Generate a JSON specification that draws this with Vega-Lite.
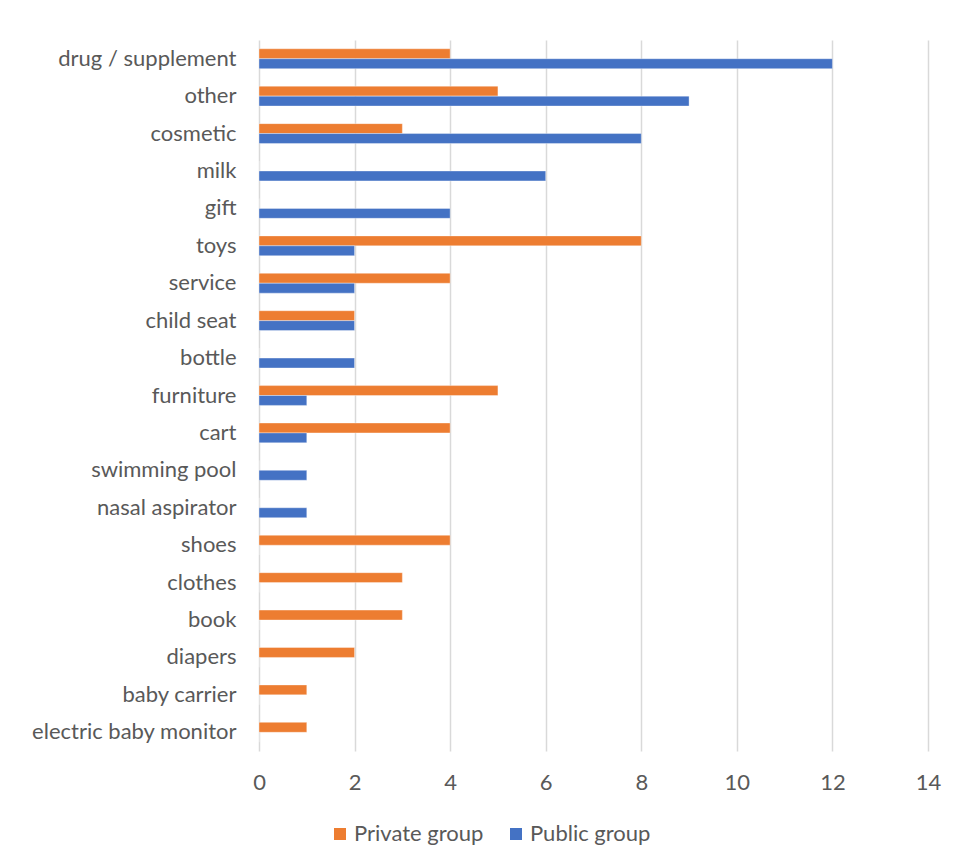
{
  "$schema": "https://vega.github.io/schema/vega-lite/v6.json",
  "width": 669,
  "height": 711,
  "autosize": {"type": "none"},
  "padding": {"left": 259, "top": 40, "right": 29, "bottom": 115},
  "background": "white",
  "config": {
    "view": {"stroke": null},
    "font": "Lato",
    "axis": {"labelColor": "#595959", "labelFont": "Lato", "labelFontSize": 22, "labelLimit": 300, "domain": false, "ticks": false},
    "legend": {"labelColor": "#595959", "labelFont": "Lato", "labelFontSize": 22, "labelLimit": 300}
  },
  "data": {
    "values": [
      {"item": "drug / supplement", "group": "Private group", "count": 4},
      {"item": "drug / supplement", "group": "Public group", "count": 12},
      {"item": "other", "group": "Private group", "count": 5},
      {"item": "other", "group": "Public group", "count": 9},
      {"item": "cosmetic", "group": "Private group", "count": 3},
      {"item": "cosmetic", "group": "Public group", "count": 8},
      {"item": "milk", "group": "Private group", "count": 0},
      {"item": "milk", "group": "Public group", "count": 6},
      {"item": "gift", "group": "Private group", "count": 0},
      {"item": "gift", "group": "Public group", "count": 4},
      {"item": "toys", "group": "Private group", "count": 8},
      {"item": "toys", "group": "Public group", "count": 2},
      {"item": "service", "group": "Private group", "count": 4},
      {"item": "service", "group": "Public group", "count": 2},
      {"item": "child seat", "group": "Private group", "count": 2},
      {"item": "child seat", "group": "Public group", "count": 2},
      {"item": "bottle", "group": "Private group", "count": 0},
      {"item": "bottle", "group": "Public group", "count": 2},
      {"item": "furniture", "group": "Private group", "count": 5},
      {"item": "furniture", "group": "Public group", "count": 1},
      {"item": "cart", "group": "Private group", "count": 4},
      {"item": "cart", "group": "Public group", "count": 1},
      {"item": "swimming pool", "group": "Private group", "count": 0},
      {"item": "swimming pool", "group": "Public group", "count": 1},
      {"item": "nasal aspirator", "group": "Private group", "count": 0},
      {"item": "nasal aspirator", "group": "Public group", "count": 1},
      {"item": "shoes", "group": "Private group", "count": 4},
      {"item": "shoes", "group": "Public group", "count": 0},
      {"item": "clothes", "group": "Private group", "count": 3},
      {"item": "clothes", "group": "Public group", "count": 0},
      {"item": "book", "group": "Private group", "count": 3},
      {"item": "book", "group": "Public group", "count": 0},
      {"item": "diapers", "group": "Private group", "count": 2},
      {"item": "diapers", "group": "Public group", "count": 0},
      {"item": "baby carrier", "group": "Private group", "count": 1},
      {"item": "baby carrier", "group": "Public group", "count": 0},
      {"item": "electric baby monitor", "group": "Private group", "count": 1},
      {"item": "electric baby monitor", "group": "Public group", "count": 0}
    ]
  },
  "mark": {"type": "bar", "stroke": "white", "strokeWidth": 0.6, "strokeOpacity": 0.6},
  "encoding": {
    "y": {
      "field": "item",
      "type": "nominal",
      "sort": null,
      "scale": {"paddingInner": 0.47, "paddingOuter": 0.235},
      "axis": {"title": null, "labelPadding": 23, "grid": false}
    },
    "yOffset": {
      "field": "group",
      "type": "nominal",
      "sort": ["Private group", "Public group"]
    },
    "x": {
      "field": "count",
      "type": "quantitative",
      "scale": {"domain": [0, 14], "nice": false},
      "axis": {"title": null, "values": [0, 2, 4, 6, 8, 10, 12, 14], "labelFlush": false, "labelPadding": 21, "gridColor": "#D9D9D9", "gridWidth": 1.5}
    },
    "color": {
      "field": "group",
      "type": "nominal",
      "scale": {"domain": ["Private group", "Public group"], "range": ["#ED7D31", "#4472C4"]},
      "legend": {
        "title": null,
        "orient": "none",
        "direction": "horizontal",
        "legendX": 70,
        "legendY": 783,
        "symbolType": "square",
        "symbolSize": 144,
        "symbolStrokeWidth": 0,
        "labelOffset": 3,
        "columnPadding": 21
      }
    }
  }
}
